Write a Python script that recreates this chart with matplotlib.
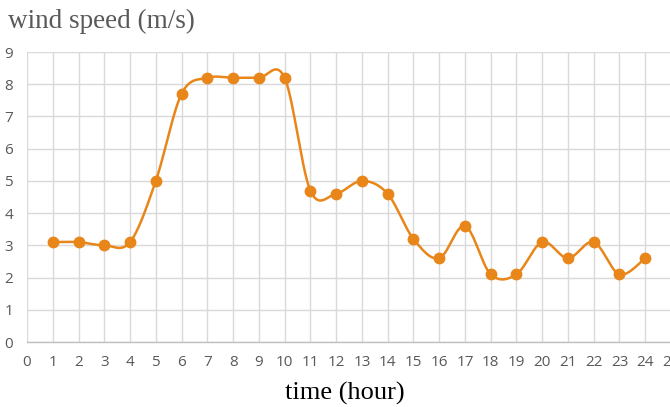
import numpy as np
import matplotlib
matplotlib.use("Agg")
import matplotlib.pyplot as plt

hours = list(range(1, 25))
wind_speed = [3.1, 3.1, 3.0, 3.1, 5.0, 7.7, 8.2, 8.2, 8.2, 8.2, 4.7, 4.6,
              5.0, 4.6, 3.2, 2.6, 3.6, 2.1, 2.1, 3.1, 2.6, 3.1, 2.1, 2.6]
x_ticks = list(range(0, 26))
y_ticks = list(range(0, 10))

ORANGE = "#E8861A"
GRID = "#D9D9D9"
TICK_GRAY = "#595959"


def smooth_curve(x, y, n=30, k=6.0):
    """Cubic Bezier spline through the points (Catmull-Rom style tangents)."""
    x = np.asarray(x, float)
    y = np.asarray(y, float)
    px = np.concatenate([[x[0]], x, [x[-1]]])
    py = np.concatenate([[y[0]], y, [y[-1]]])
    xs, ys = [], []
    t = np.linspace(0, 1, n)
    for i in range(1, len(px) - 2):
        p0 = np.array([px[i], py[i]])
        p3 = np.array([px[i + 1], py[i + 1]])
        p1 = p0 + (np.array([px[i + 1], py[i + 1]]) - np.array([px[i - 1], py[i - 1]])) / k
        p2 = p3 - (np.array([px[i + 2], py[i + 2]]) - np.array([px[i], py[i]])) / k
        b = ((1 - t) ** 3)[:, None] * p0 + (3 * (1 - t) ** 2 * t)[:, None] * p1 \
            + (3 * (1 - t) * t ** 2)[:, None] * p2 + (t ** 3)[:, None] * p3
        xs.append(b[:, 0])
        ys.append(b[:, 1])
    return np.concatenate(xs), np.concatenate(ys)


fig = plt.figure(figsize=(6.70, 4.07), dpi=100)
ax = fig.add_axes([27 / 670, 1 - 342 / 407, 644 / 670, 290 / 407])

sx, sy = smooth_curve(hours, wind_speed)
ax.plot(sx, sy, color=ORANGE, lw=1.8, solid_capstyle="round", zorder=3)
ax.plot(hours, wind_speed, "o", color=ORANGE, ms=7.5, zorder=4)

ax.set_xlim(0, 25)
ax.set_ylim(0, 9)
ax.set_xticks(x_ticks)
ax.set_yticks(y_ticks)
ax.grid(True, color=GRID, lw=1.0)
ax.set_axisbelow(True)
for side in ("top", "right", "left"):
    ax.spines[side].set_visible(False)
ax.spines["bottom"].set_color("#BFBFBF")
ax.spines["bottom"].set_linewidth(1.0)
ax.tick_params(axis="both", length=0, labelsize=11, labelcolor=TICK_GRAY)
ax.tick_params(axis="x", pad=9)
ax.tick_params(axis="y", pad=10)
for lab in ax.get_xticklabels() + ax.get_yticklabels():
    lab.set_family("Open Sans")

fig.text(8 / 670, 1 - 21 / 407, "wind speed (m/s)", family="Liberation Serif",
         fontsize=19.5, color=TICK_GRAY, ha="left", va="center")
fig.text(345 / 670, 1 - 393 / 407, "time (hour)", family="Liberation Serif",
         fontsize=19, color="black", ha="center", va="center")

fig.savefig("out.png", dpi=100)
